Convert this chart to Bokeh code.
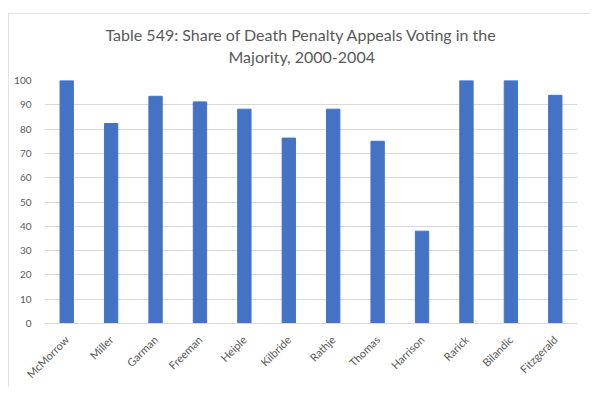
import math
from bokeh.plotting import figure
from bokeh.models import Title, FactorRange, SingleIntervalTicker
from bokeh.embed import file_html
from bokeh.resources import INLINE

judges = ["McMorrow", "Miller", "Garman", "Freeman", "Heiple", "Kilbride",
          "Rathje", "Thomas", "Harrison", "Rarick", "Bilandic", "Fitzgerald"]
shares = [100, 82.3, 93.5, 91.2, 88.2, 76.3, 88.2, 75.0, 38.0, 100, 100, 93.9]

title_line1 = "Table 549: Share of Death Penalty Appeals Voting in the"
title_line2 = "Majority, 2000-2004"

FONT = "Lato"
GRAY = "#595959"
GRID = "#d9d9d9"

p = figure(x_range=FactorRange(factors=judges, range_padding=0),
           y_range=(0, 100), width=582, height=374,
           output_backend="svg", toolbar_location=None, title=None,
           min_border_left=36, min_border_right=13, min_border_top=67,
           min_border_bottom=62)
p.styles = {"margin-left": "8px", "margin-top": "13px",
            "outline": "1px solid #d9d9d9", "outline-offset": "-1px"}
p.outline_line_color = None

p.vbar(x=judges, top=shares, width=0.3, color="#4472C4")

t2 = Title(text=title_line2, align="left", vertical_align="top", text_font=FONT,
           text_font_size="16px", text_color=GRAY, text_font_style="normal",
           offset=184, standoff=26)
t1 = Title(text=title_line1, align="left", vertical_align="bottom", text_font=FONT,
           text_font_size="16px", text_color=GRAY, text_font_style="normal",
           offset=61, standoff=-21)
p.add_layout(t2, "above")
p.add_layout(t1, "above")

p.xgrid.grid_line_color = None
p.ygrid.grid_line_color = GRID
p.yaxis.ticker = SingleIntervalTicker(interval=10)
p.yaxis.axis_line_color = None
p.yaxis.major_tick_line_color = None
p.yaxis.minor_tick_line_color = None
p.yaxis.major_label_text_font = FONT
p.yaxis.major_label_text_font_size = "10px"
p.yaxis.major_label_text_color = GRAY
p.yaxis.major_label_standoff = 7

p.xaxis.axis_line_color = GRID
p.xaxis.major_tick_line_color = None
p.xaxis.major_label_orientation = math.pi / 4
p.xaxis.major_label_text_font = FONT
p.xaxis.major_label_text_font_size = "11px"
p.xaxis.major_label_text_color = GRAY
p.xaxis.major_label_standoff = 8

open("out.html", "w").write(file_html(p, INLINE))
